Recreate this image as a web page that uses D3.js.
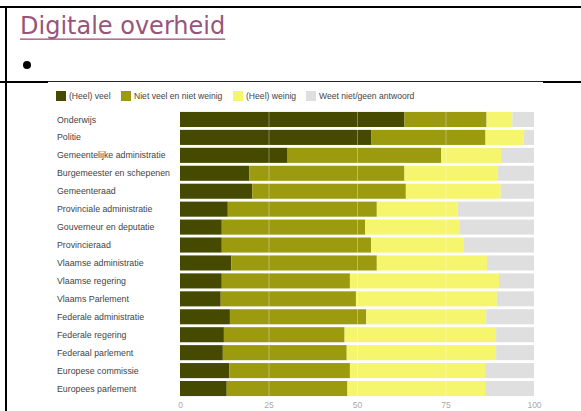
<!DOCTYPE html>
<html><head><meta charset="utf-8">
<script src="https://cdn.jsdelivr.net/npm/d3@7"></script>
<style>html,body{margin:0;padding:0;background:#fff;overflow:hidden}</style>
</head><body><svg id="c" width="581" height="411"></svg>
<script>
const categories = ["Onderwijs","Politie","Gemeentelijke administratie","Burgemeester en schepenen","Gemeenteraad","Provinciale administratie","Gouverneur en deputatie","Provincieraad","Vlaamse administratie","Vlaamse regering","Vlaams Parlement","Federale administratie","Federale regering","Federaal parlement","Europese commissie","Europees parlement"];
const seriesNames = ["(Heel) veel","Niet veel en niet weinig","(Heel) weinig","Weet niet/geen antwoord"];
const heelVeel   = [63.4,54.1,30.4,19.6,20.4,13.5,11.8,11.8,14.5,11.8,11.5,14.1,12.4,12.1,13.9,13.2];
const nietVeel   = [23.2,32.2,43.4,43.8,43.4,42.1,40.5,42.2,41.1,36.2,38.2,38.5,34.1,35.0,34.1,34.1];
const heelWeinig = [7.3,10.8,16.9,26.3,26.8,22.8,26.6,26.2,31.1,42.1,39.8,33.9,42.8,42.2,38.2,38.9];
const weetNiet   = [6.1,2.9,9.3,10.3,9.4,21.6,21.1,19.8,13.3,9.9,10.5,13.5,10.7,10.7,13.8,13.8];
const tickValues = [0,25,50,75,100];
const colors = ["#464900","#9c9a0e","#f6f56e","#dfdfdf"];

const svg = d3.select("#c");
// page frame
svg.append("rect").attr("x",0).attr("y",6).attr("width",581).attr("height",2).attr("fill","#000");
svg.append("rect").attr("x",5).attr("y",6).attr("width",2).attr("height",405).attr("fill","#000");
svg.append("rect").attr("x",0).attr("y",81).attr("width",48).attr("height",2).attr("fill","#000");
svg.append("rect").attr("x",48).attr("y",81).attr("width",495).attr("height",1).attr("fill","#222");
svg.append("rect").attr("x",543).attr("y",81).attr("width",38).attr("height",2).attr("fill","#000");

// title
const title = svg.append("text").attr("x",20).attr("y",34)
  .attr("font-family","'DejaVu Sans', sans-serif").attr("font-size",22)
  .attr("fill","#985479").text("Digitale overheid");
let tl = title.node().getComputedTextLength();
const fs = 22*213/tl;
title.attr("font-size",Math.min(fs,24));
tl = title.node().getComputedTextLength();
svg.append("rect").attr("x",20).attr("y",38.5).attr("width",tl).attr("height",1.3).attr("fill","#985479");
svg.append("circle").attr("cx",27).attr("cy",65).attr("r",4).attr("fill","#000");

// chart
const data = categories.map((c,i)=>({cat:c, v:[heelVeel[i],nietVeel[i],heelWeinig[i],weetNiet[i]]}));
const x = d3.scaleLinear().domain([0,100]).range([180,534]);
const y = d3.scaleBand().domain(categories).range([110.5,397.5]).paddingInner(0.16).paddingOuter(0.08);
const stack = d3.stack().keys([0,1,2,3]).value((d,k)=>d.v[k]);
const layers = stack(data);

const g = svg.append("g");
layers.forEach((layer,k)=>{
  g.selectAll(null).data(layer).enter().append("rect")
    .attr("x",d=>x(d[0])).attr("width",d=>x(d[1])-x(d[0]))
    .attr("y",d=>y(d.data.cat)).attr("height",y.bandwidth())
    .attr("fill",colors[k]);
});
// gridlines over bars
g.selectAll(null).data(tickValues.slice(1,4)).enter().append("line")
  .attr("x1",d=>x(d)+0.5).attr("x2",d=>x(d)+0.5).attr("y1",110).attr("y2",398)
  .attr("stroke","#fff").attr("stroke-opacity",0.35).attr("stroke-width",1);

// category labels
svg.append("g").selectAll("text").data(categories).enter().append("text")
  .attr("x",57).attr("y",d=>y(d)+y.bandwidth()/2).attr("dy","0.35em")
  .attr("font-family","'Liberation Sans', Arial, sans-serif").attr("font-size",8.8)
  .attr("fill","#444").text(d=>d);

// x axis
const ax = svg.append("g").attr("transform","translate(0,399)")
  .call(d3.axisBottom(x).tickValues(tickValues).tickSize(0).tickPadding(3));
ax.select(".domain").remove();
ax.selectAll("text").attr("font-family","'Liberation Sans', Arial, sans-serif").attr("font-size",8.5).attr("fill","#aaa");

// legend
const legX = [56,121,233,306];
const lg = svg.append("g");
seriesNames.forEach((n,i)=>{
  lg.append("rect").attr("x",legX[i]).attr("y",91).attr("width",10).attr("height",10).attr("fill",colors[i]);
  lg.append("text").attr("x",legX[i]+13).attr("y",96).attr("dy","0.35em")
    .attr("font-family","'Liberation Sans', Arial, sans-serif").attr("font-size",8.6)
    .attr("fill","#444").text(n);
});
</script></body></html>
